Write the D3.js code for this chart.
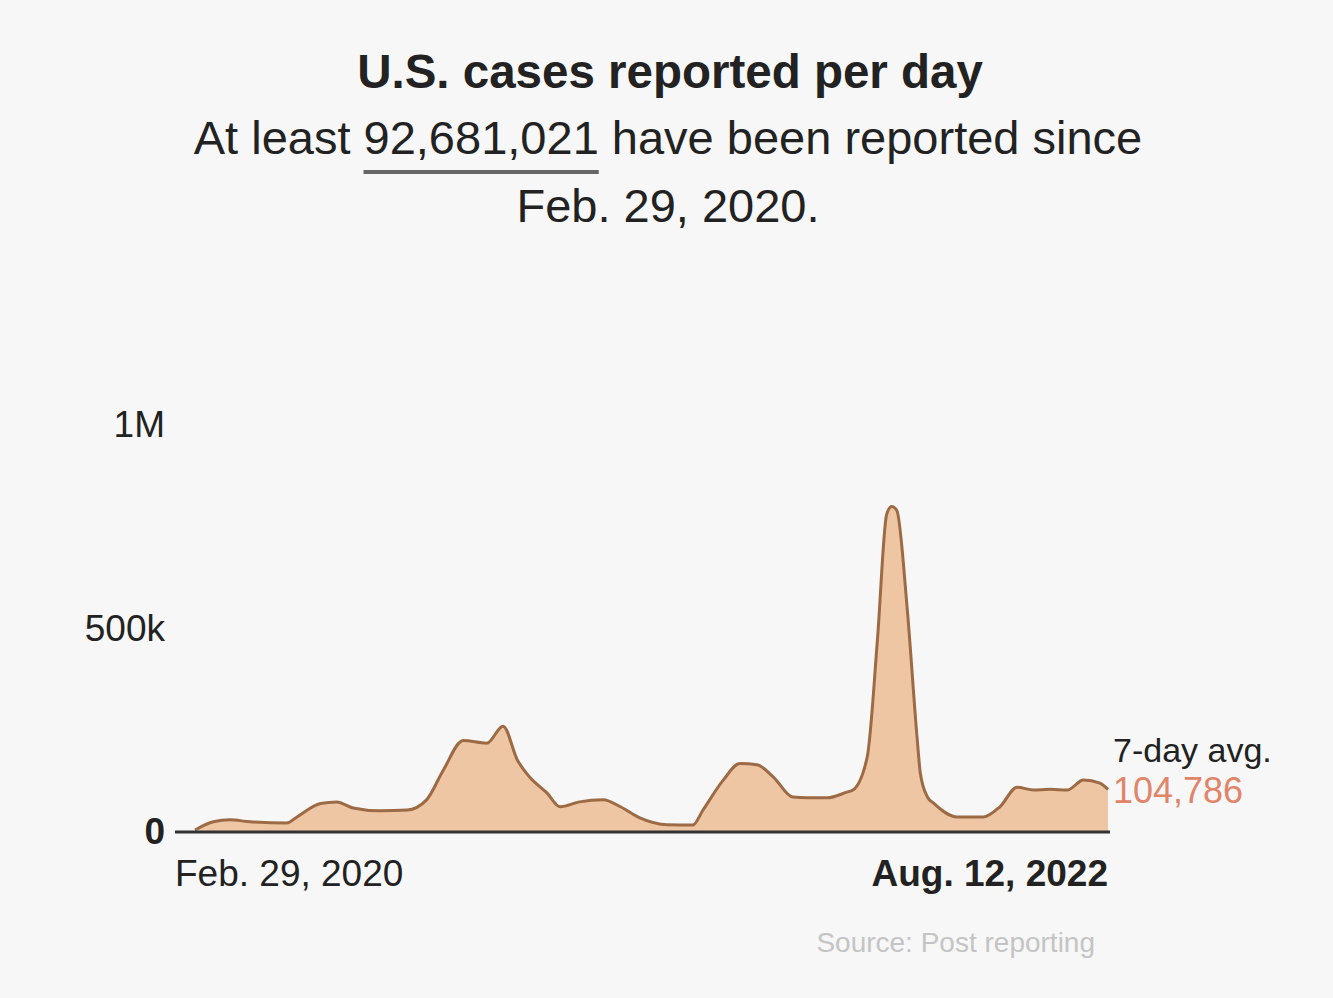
<!DOCTYPE html>
<html>
<head>
<meta charset="utf-8">
<script src="https://cdn.jsdelivr.net/npm/d3@7"></script>
<style>
  body { margin: 0; background: #f7f7f7; }
  svg { display: block; font-family: "Liberation Sans", Arial, sans-serif; }
</style>
</head>
<body>
<svg></svg>
<script>
// 7-day average of cases reported per day
let dates = ['2020-02-29','2020-03-18','2020-04-03','2020-04-23','2020-05-29','2020-06-08','2020-07-01','2020-07-17',
  '2020-08-02','2020-08-28','2020-09-24','2020-10-13','2020-10-29','2020-11-18','2020-12-11','2020-12-27',
  '2021-01-10','2021-01-22','2021-02-08','2021-02-21','2021-03-12','2021-04-04','2021-04-21','2021-05-10',
  '2021-06-06','2021-07-01','2021-07-11','2021-07-31','2021-08-16','2021-09-02','2021-09-18','2021-10-07',
  '2021-10-21','2021-11-10','2021-11-29','2021-12-05','2021-12-19','2021-12-29','2022-01-07','2022-01-12',
  '2022-01-17','2022-01-27','2022-02-06','2022-02-09','2022-02-16','2022-02-22','2022-03-17','2022-04-12',
  '2022-04-28','2022-05-15','2022-05-31','2022-06-16','2022-07-03','2022-07-19','2022-08-04','2022-08-12'];
let avgCases = [5000,25000,30000,25000,22000,37000,70000,74000,
  59000,52000,54000,79000,150000,225000,218000,260000,
  177000,135000,96000,62000,74000,79000,62000,35000,
  18000,17000,54000,128000,168000,165000,135000,86000,
  84000,84000,98000,103000,185000,473000,780000,800000,
  790000,554000,227000,145000,86000,71000,37000,37000,
  62000,110000,103000,105000,103000,128000,120000,104786];

let yTicks = [0, 500000, 1000000];
let yTickLabels = ['0', '500k', '1M'];
let xLabels = ['Feb. 29, 2020', 'Aug. 12, 2022'];

let w = 1333;
let h = 998;
let svg = d3.select('svg').attr('width', w).attr('height', h);

let parse = d3.timeParse('%Y-%m-%d');
let values = dates.map((d, i) => [parse(d), avgCases[i]]);

let xScale = d3.scaleTime()
  .domain([parse(dates[0]), parse(dates[dates.length - 1])])
  .range([195, 1108]);
let yScale = d3.scaleLinear()
  .domain([0, 1000000])
  .range([832, 425]);

// titles
svg.append('text')
  .attr('x', 670).attr('y', 88)
  .attr('text-anchor', 'middle')
  .attr('font-size', 47.5).attr('font-weight', 'bold').attr('fill', '#222')
  .text('U.S. cases reported per day');

let sub = svg.append('text')
  .attr('x', 668).attr('y', 154)
  .attr('text-anchor', 'middle')
  .attr('font-size', 47).attr('fill', '#222')
  .text('At least 92,681,021 have been reported since');

svg.append('text')
  .attr('x', 668).attr('y', 222)
  .attr('text-anchor', 'middle')
  .attr('font-size', 47).attr('fill', '#222')
  .text('Feb. 29, 2020.');

// underline the total
let n = sub.node();
let u0 = n.getStartPositionOfChar(9).x;
let u1 = n.getEndPositionOfChar(18).x;
svg.append('line')
  .attr('x1', u0).attr('x2', u1)
  .attr('y1', 172).attr('y2', 172)
  .attr('stroke', '#666').attr('stroke-width', 4);

// area + line
let area = d3.area()
  .x(d => xScale(d[0]))
  .y0(yScale(0))
  .y1(d => yScale(d[1]))
  .curve(d3.curveMonotoneX);
let line = d3.line()
  .x(d => xScale(d[0]))
  .y(d => yScale(d[1]))
  .curve(d3.curveMonotoneX);

svg.append('path')
  .datum(values)
  .attr('d', area)
  .attr('fill', '#efc6a4');

svg.append('path')
  .datum(values)
  .attr('d', line)
  .attr('fill', 'none')
  .attr('stroke', '#9c6a44')
  .attr('stroke-width', 3)
  .attr('stroke-linejoin', 'round');

// baseline
svg.append('line')
  .attr('x1', 175).attr('x2', 1110)
  .attr('y1', yScale(0)).attr('y2', yScale(0))
  .attr('stroke', '#333').attr('stroke-width', 3);

// y axis labels
let yAxis = d3.axisLeft(yScale)
  .tickValues(yTicks)
  .tickFormat((d, i) => yTickLabels[i])
  .tickSize(0)
  .tickPadding(0);
let yg = svg.append('g')
  .attr('transform', 'translate(165,0)')
  .call(yAxis);
yg.select('.domain').remove();
yg.selectAll('text')
  .attr('font-size', 37)
  .attr('font-family', '"Liberation Sans", Arial, sans-serif')
  .attr('fill', '#222')
  .attr('font-weight', d => d === 0 ? 'bold' : 'normal');

// x axis labels
svg.append('text')
  .attr('x', 175).attr('y', 886)
  .attr('font-size', 37).attr('fill', '#222')
  .text(xLabels[0]);
svg.append('text')
  .attr('x', 1108).attr('y', 886)
  .attr('text-anchor', 'end')
  .attr('font-size', 37).attr('font-weight', 'bold').attr('fill', '#222')
  .text(xLabels[1]);

// end label
svg.append('text')
  .attr('x', 1113).attr('y', 762)
  .attr('font-size', 34).attr('fill', '#222')
  .text('7-day avg.');
svg.append('text')
  .attr('x', 1113).attr('y', 803)
  .attr('font-size', 36).attr('fill', '#e0846a')
  .text(d3.format(',')(avgCases[avgCases.length - 1]));

// source
svg.append('text')
  .attr('x', 1095).attr('y', 952)
  .attr('text-anchor', 'end')
  .attr('font-size', 28).attr('fill', '#c4c4c4')
  .text('Source: Post reporting');
</script>
</body>
</html>
